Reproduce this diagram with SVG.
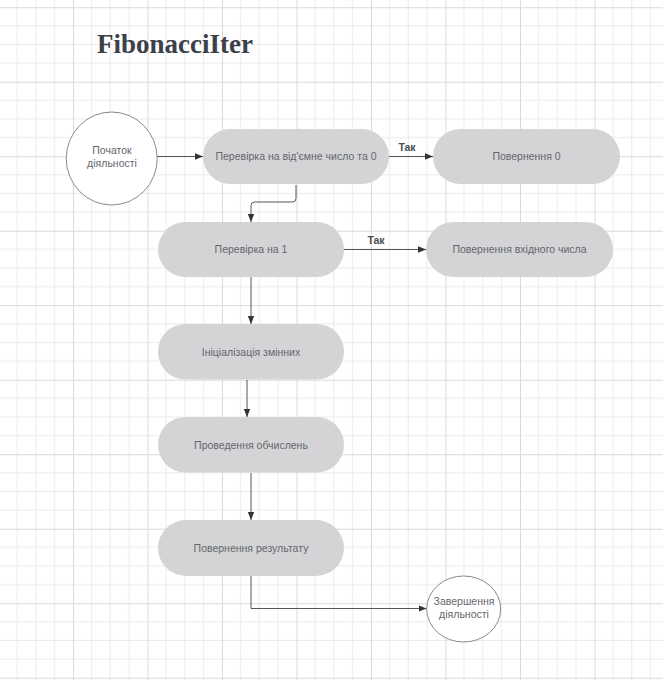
<svg xmlns="http://www.w3.org/2000/svg" width="663" height="680" viewBox="0 0 663 680">
<defs>
<pattern id="grid" patternUnits="userSpaceOnUse" x="-1.5" y="7.2" width="74.5" height="74.5">
<path d="M18.6 0V74.5M37.25 0V74.5M55.9 0V74.5M0 18.6H74.5M0 37.25H74.5M0 55.9H74.5" stroke="#ebebeb" stroke-width="1" fill="none"/>
<path d="M0.5 0V74.5M0 0.5H74.5" stroke="#dadada" stroke-width="1" fill="none"/>
</pattern>
<marker id="arr" viewBox="0 0 10 10" refX="10" refY="5" markerWidth="8" markerHeight="8" markerUnits="userSpaceOnUse" orient="auto">
<path d="M0 1 L10 5 L0 9 Z" fill="#333"/>
</marker>
<style>
.pill{fill:#d4d4d6;stroke:none}
.circ{fill:#fff;stroke:#8a8a8a;stroke-width:1}
.t{font-family:"Liberation Sans",Arial,sans-serif;font-size:10.5px;fill:#63666d;text-anchor:middle}
.lbl{font-family:"Liberation Sans",Arial,sans-serif;font-size:10.5px;font-weight:bold;fill:#4a4d54;text-anchor:middle}
.edge{fill:none;stroke:#555;stroke-width:1;marker-end:url(#arr)}
</style>
</defs>
<rect width="663" height="680" fill="#fff"/>
<rect width="663" height="680" fill="url(#grid)"/>
<text x="97" y="53" font-family="Liberation Serif,'DejaVu Serif',serif" font-size="27" font-weight="bold" fill="#3b4049">FibonacciIter</text>

<g id="connectors">
<path class="edge" d="M157 156.5H203"/>
<path class="edge" d="M389 156.5H433"/>
<path class="edge" d="M296 185V198.5Q296 202 292.5 202H254.5Q251 202 251 205.5V222"/>
<path class="edge" d="M344 249.5H426"/>
<path class="edge" d="M251 277V324"/>
<path class="edge" d="M247 380V417"/>
<path class="edge" d="M251 473V520"/>
<path class="edge" d="M251 576V608.5H426.5"/>
<text class="lbl" x="407" y="151">Так</text>
<text class="lbl" x="376" y="244">Так</text>
</g>

<g id="start">
<ellipse class="circ" cx="111.7" cy="158.5" rx="45.5" ry="46.5"/>
<text class="t" x="112" y="154">Початок</text>
<text class="t" x="112" y="167">діяльності</text>
</g>
<g id="check-neg">
<rect class="pill" x="203" y="129" width="186" height="55" rx="27.5"/>
<text class="t" x="296" y="160">Перевірка на від'ємне число та 0</text>
</g>
<g id="return-0">
<rect class="pill" x="433" y="129" width="187" height="55" rx="27.5"/>
<text class="t" x="526.5" y="160">Повернення 0</text>
</g>
<g id="check-1">
<rect class="pill" x="158" y="222" width="186" height="55" rx="27.5"/>
<text class="t" x="251" y="253">Перевірка на 1</text>
</g>
<g id="return-input">
<rect class="pill" x="426" y="222" width="187" height="55" rx="27.5"/>
<text class="t" x="519.5" y="253">Повернення вхідного числа</text>
</g>
<g id="init">
<rect class="pill" x="158" y="324" width="186" height="55.5" rx="27.5"/>
<text class="t" x="251" y="355.5">Ініціалізація змінних</text>
</g>
<g id="compute">
<rect class="pill" x="158" y="417" width="186" height="55.5" rx="27.5"/>
<text class="t" x="251" y="448.5">Проведення обчислень</text>
</g>
<g id="return-result">
<rect class="pill" x="158" y="520" width="186" height="56" rx="28"/>
<text class="t" x="251" y="551.5">Повернення результату</text>
</g>
<g id="end">
<ellipse class="circ" cx="463.7" cy="609" rx="37" ry="33"/>
<text class="t" x="464" y="605">Завершення</text>
<text class="t" x="464" y="618">діяльності</text>
</g>
</svg>
